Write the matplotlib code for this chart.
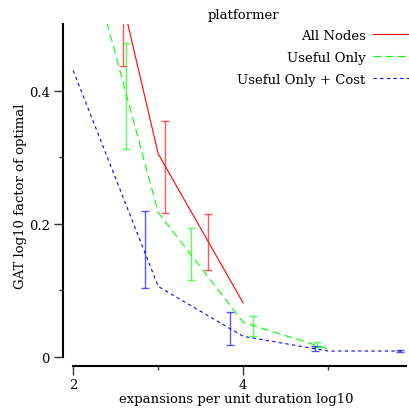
import numpy as np
import matplotlib
matplotlib.use("Agg")
import matplotlib.pyplot as plt

plt.rcParams['font.family'] = ['DejaVu Serif']

# ===== dados =====
labels = ["All Nodes", "Useful Only", "Useful Only + Cost"]

red_x = [2, 3, 4]
red_y = [0.85, 0.305, 0.081]
green_x = [2, 3, 4, 5]
green_y = [0.69, 0.217, 0.052, 0.012]
blue_x = [2, 3, 4, 5, 5.88]
blue_y = [0.43, 0.106, 0.031, 0.009, 0.009]

# barras de erro (x, inferior, superior)
red_ex = [2.59, 3.08, 3.58]
red_lo = [0.437, 0.216, 0.131]
red_hi = [0.60, 0.355, 0.215]
green_ex = [2.62, 3.38, 4.12, 4.87]
green_lo = [0.313, 0.115, 0.032, 0.015]
green_hi = [0.472, 0.194, 0.061, 0.022]
blue_ex = [2.84, 3.84, 4.84, 5.84]
blue_lo = [0.103, 0.018, 0.009, 0.007]
blue_hi = [0.219, 0.067, 0.016, 0.011]

yticks = [0, 0.2, 0.4]
yminor = [0.1, 0.3]
xticks = [2, 4]
xminor = [3, 5]

fig = plt.figure(figsize=(4.09, 4.10), dpi=100)
ax = fig.add_axes([63/409, 43/410, 346/409, 342/410])

series = [
    (red_x, red_y, red_ex, red_lo, red_hi, "#ff0000", "-"),
    (green_x, green_y, green_ex, green_lo, green_hi, "#00ff00", (0, (7, 4))),
    (blue_x, blue_y, blue_ex, blue_lo, blue_hi, "#0000ff", (0, (3, 3))),
]
handles = []
for (lx, ly, ex, lo, hi, cor, estilo), nome in zip(series, labels):
    h, = ax.plot(lx, ly, color=cor, linestyle=estilo, linewidth=0.8, label=nome)
    handles.append(h)
    ex = np.array(ex)
    lo = np.array(lo)
    hi = np.array(hi)
    mid = (lo + hi) / 2
    ax.errorbar(ex, mid, yerr=[mid - lo, hi - mid], fmt='none', ecolor=cor,
                alpha=0.65, elinewidth=1.0, capsize=3, capthick=1.0)

ax.set_xlim(1.88, 5.95)
ax.set_ylim(-0.0135, 0.5)

for s in ['top', 'right']:
    ax.spines[s].set_visible(False)
ax.spines['left'].set_bounds(0, 0.5)
ax.spines['bottom'].set_bounds(2, 5.92)
ax.spines['left'].set_linewidth(1.5)
ax.spines['bottom'].set_linewidth(1.5)

ax.set_yticks(yticks)
ax.set_yticklabels(['0', '0.2', '0.4'])
ax.set_yticks(yminor, minor=True)
ax.set_xticks(xticks)
ax.set_xticklabels(['2', '4'])
ax.set_xticks(xminor, minor=True)
ax.tick_params(which='major', length=6.5, width=1.0, color='#333333', labelsize=9.5, pad=3)
ax.tick_params(axis='x', which='major', pad=2)
ax.tick_params(which='minor', length=3, width=1.0, color='#333333')

ax.set_xlabel("expansions per unit duration log10", fontsize=9.5, labelpad=1)
ax.set_ylabel("GAT log10 factor of optimal", fontsize=9.5, labelpad=1)
fig.text(243/409, 1 - 15/410, "platformer", ha='center', va='center', fontsize=9.5)

ax.legend(handles=handles, loc='upper right', bbox_to_anchor=(1.0, 1 - 5/342),
          markerfirst=False, frameon=False, fontsize=9.5, handlelength=2.7,
          labelspacing=0.67, borderaxespad=0.0, borderpad=0.0, handletextpad=0.6)

fig.savefig("out.png", dpi=100)
